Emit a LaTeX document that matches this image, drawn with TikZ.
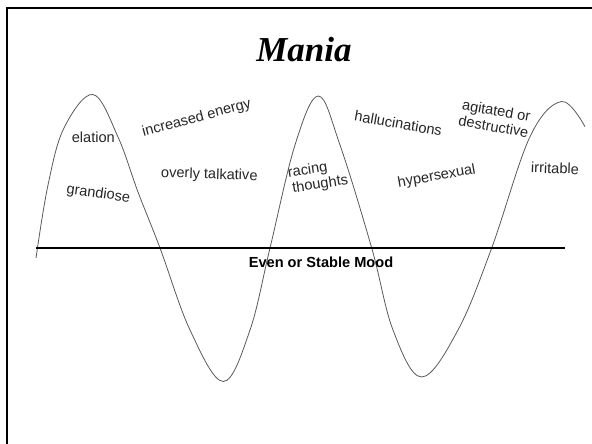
\documentclass[tikz,border=0pt]{standalone}
\usepackage{fontspec}
\setmainfont{Liberation Sans}
\newfontfamily\titlefont{Liberation Serif}
\begin{document}
\begin{tikzpicture}[
  x=1pt, y=-1pt,
  every node/.style={inner sep=1pt},
  symptom/.style={font=\fontsize{14.6}{16}\selectfont, align=center, text=black!85},
  wave/.style={draw=black!65, line width=0.8pt},
  mood line/.style={draw, line width=2pt}
]
\clip (0,0) rectangle (592,444);
\useasboundingbox (0,0) rectangle (592,444);
\draw[line width=2.5pt] (7,8) rectangle (620,470);
\node[anchor=base] (title) at (304,62) {\titlefont\bfseries\itshape\fontsize{35}{40}\selectfont Mania};
\draw[wave] plot[smooth, tension=0.6] coordinates {(36,258) (48,185) (64,128) (93,94.5)
  (118,137) (138,192) (160,248) (190,330) (223.3,381.5)
  (250,330) (270,248) (295,145) (318.3,96)
  (340,145) (371.7,248) (393,330) (421.7,377)
  (458,330) (491.7,248) (530,136.7) (561.5,101.5) (585,126.7)};
\coordinate (mood west) at (36,248);
\coordinate (mood east) at (565,248);
\draw[mood line] (mood west) -- (mood east);
\node[font=\fontsize{14.6}{16}\selectfont\bfseries] (mood) at (321,262) {Even or Stable Mood};
\node[symptom] (elation) at (93.3,137.3) {elation};
\node[symptom, rotate=-8] (grandiose) at (98.3,194) {grandiose};
\node[symptom, rotate=15] (energy) at (196.7,118.3) {increased energy};
\node[symptom, rotate=-2] (talkative) at (209.3,175) {overly talkative};
\node[symptom, rotate=9, align=left] (racing) at (318,177) {racing\\\hspace*{2pt}thoughts};
\node[symptom, rotate=-10] (hallucinations) at (398.3,123.3) {hallucinations};
\node[symptom, rotate=10] (hypersexual) at (436.7,176.7) {hypersexual};
\node[symptom, rotate=-10] (agitated) at (495,118.5) {agitated or\\destructive};
\node[symptom, rotate=-2] (irritable) at (555,168.3) {irritable};
\end{tikzpicture}
\end{document}
